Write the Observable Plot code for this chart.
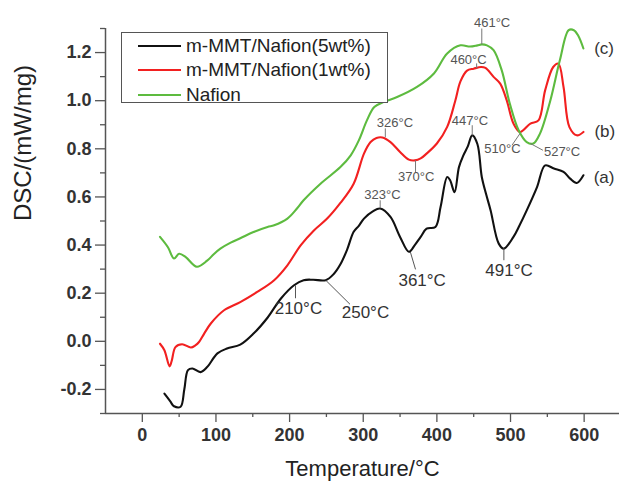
<!DOCTYPE html>
<html><head><meta charset="utf-8">
<script src="https://cdn.jsdelivr.net/npm/d3@7"></script>
<script src="https://cdn.jsdelivr.net/npm/@observablehq/plot@0.6"></script>
<style>
body{margin:0;background:#fff;font-family:"Liberation Sans",Arial,sans-serif;}
#wrap{position:relative;width:619px;height:485px;}
#legend{position:absolute;left:121px;top:32px;width:267px;height:71px;border:1.3px solid #555;background:#fff;box-sizing:border-box;}
.row{position:absolute;left:0;height:24px;display:flex;align-items:center;}
.sw{width:43px;height:0;border-top:2px solid;margin-left:16px;margin-right:5px;}
.lab{font-size:19px;color:#222;white-space:nowrap;}
</style></head><body><div id="wrap"></div>
<script>
// Series names and colours
const seriesNames = ["m-MMT/Nafion(5wt%)", "m-MMT/Nafion(1wt%)", "Nafion"];
const seriesColors = ["#111111", "#f22020", "#5dbb3f"];

// (a) m-MMT/Nafion(5wt%)
const tempA = [30, 38, 43, 52, 57, 62, 68, 79, 88, 102, 115, 133, 151, 170, 188, 206, 219, 232, 249, 260, 269, 278, 287, 294, 301, 313, 323, 337, 350, 362, 370, 378, 386, 398, 405, 414, 418, 424, 430, 436, 442, 448, 455, 461, 467, 473, 484, 491, 504, 512, 522, 536, 547, 559, 572, 581, 590, 599];
const dscA  = [-0.217, -0.25, -0.27, -0.272, -0.2, -0.12, -0.113, -0.128, -0.107, -0.05, -0.03, -0.014, 0.032, 0.098, 0.177, 0.233, 0.254, 0.256, 0.254, 0.28, 0.32, 0.38, 0.455, 0.48, 0.51, 0.54, 0.552, 0.517, 0.434, 0.372, 0.40, 0.434, 0.468, 0.475, 0.558, 0.683, 0.669, 0.62, 0.724, 0.773, 0.81, 0.856, 0.82, 0.683, 0.61, 0.544, 0.406, 0.385, 0.434, 0.48, 0.544, 0.641, 0.731, 0.718, 0.704, 0.676, 0.658, 0.69];

// (b) m-MMT/Nafion(1wt%)
const tempB = [24, 30, 37, 40, 45, 54, 66, 72, 77, 84, 93, 111, 133, 156, 179, 197, 215, 233, 251, 269, 287, 301, 310, 318, 326, 337, 350, 362, 370, 378, 386, 400, 414, 425, 432, 441, 450, 460, 466, 477, 486, 495, 504, 513, 527, 538, 547, 558, 565, 572, 580, 590, 599];
const dscB  = [-0.01, -0.037, -0.104, -0.08, -0.024, -0.012, -0.026, -0.017, -0.003, 0.032, 0.074, 0.129, 0.163, 0.205, 0.254, 0.316, 0.399, 0.461, 0.51, 0.575, 0.655, 0.78, 0.828, 0.845, 0.847, 0.828, 0.787, 0.755, 0.752, 0.76, 0.78, 0.822, 0.891, 1.0, 1.08, 1.125, 1.133, 1.14, 1.136, 1.099, 1.071, 1.0, 0.905, 0.87, 0.905, 0.918, 1.043, 1.14, 1.154, 1.057, 0.89, 0.856, 0.87];

// (c) Nafion
const tempC = [24, 35, 43, 50, 59, 74, 88, 97, 106, 120, 133, 151, 170, 179, 197, 210, 219, 242, 269, 283, 294, 305, 315, 328, 346, 373, 396, 414, 432, 445, 455, 461, 468, 477, 488, 499, 511, 522, 531, 540, 554, 567, 579, 586, 592, 599];
const dscC  = [0.434, 0.39, 0.344, 0.364, 0.35, 0.31, 0.335, 0.362, 0.385, 0.41, 0.428, 0.454, 0.475, 0.482, 0.51, 0.552, 0.586, 0.655, 0.724, 0.773, 0.835, 0.918, 0.974, 0.995, 1.015, 1.057, 1.113, 1.196, 1.23, 1.225, 1.23, 1.234, 1.23, 1.21, 1.127, 0.988, 0.877, 0.828, 0.822, 0.863, 1.0, 1.168, 1.293, 1.293, 1.27, 1.217];

// Ticks
const xMajor = [0, 100, 200, 300, 400, 500, 600];
const xMinor = [50, 150, 250, 350, 450, 550, 650];
const yMajor = [-0.2, 0, 0.2, 0.4, 0.6, 0.8, 1.0, 1.2];
const yMinor = [-0.3, -0.1, 0.1, 0.3, 0.5, 0.7, 0.9, 1.1, 1.3];

// Peak annotations (small grey labels): label, text x/y, leader from (x1,y1) to (x2,y2)
const smallLabels = ["461°C", "460°C", "326°C", "370°C", "323°C", "447°C", "510°C", "527°C"];
const smallTX = [475, 443, 343, 372, 326, 445, 489, 570];
const smallTY = [1.322, 1.168, 0.91, 0.682, 0.607, 0.918, 0.798, 0.786];
const smallX1 = [461, 454, 330, 371, 323, 448, 513, 527];
const smallY1 = [1.234, 1.135, 0.848, 0.752, 0.553, 0.856, 0.864, 0.822];
const smallX2 = [461, 454, 330, 371, 323, 448, 502, 544];
const smallY2 = [1.30, 1.155, 0.885, 0.702, 0.586, 0.898, 0.815, 0.794];

// Larger dark labels
const bigLabels = ["361°C", "491°C", "210°C", "250°C"];
const bigTX = [380, 498, 212, 303];
const bigTY = [0.254, 0.295, 0.137, 0.121];
const bigX1 = [364, 491, 208, 249];
const bigY1 = [0.371, 0.387, 0.233, 0.254];
const bigX2 = [371, 491, 208, 282];
const bigY2 = [0.299, 0.337, 0.179, 0.154];

// Curve tags
const tagLabels = ["(a)", "(b)", "(c)"];
const tagX = [627, 628, 627];
const tagY = [0.682, 0.873, 1.218];

const rows = [];
[[tempA, dscA], [tempB, dscB], [tempC, dscC]].forEach(([ts, vs], k) => {
  ts.forEach((t, i) => rows.push({series: seriesNames[k], t, v: vs[i]}));
});
const small = smallLabels.map((label, i) => ({label, tx: smallTX[i], ty: smallTY[i], x1: smallX1[i], y1: smallY1[i], x2: smallX2[i], y2: smallY2[i]}));
const big = bigLabels.map((label, i) => ({label, tx: bigTX[i], ty: bigTY[i], x1: bigX1[i], y1: bigY1[i], x2: bigX2[i], y2: bigY2[i]}));
const tags = tagLabels.map((label, i) => ({label, x: tagX[i], y: tagY[i]}));

const axisStroke = "#555";
const chart = Plot.plot({
  width: 619, height: 485,
  marginLeft: 105, marginRight: 0, marginTop: 28, marginBottom: 72,
  x: {domain: [-50, 648]},
  y: {domain: [-0.3, 1.3]},
  color: {domain: seriesNames, range: seriesColors},
  style: {fontFamily: "Liberation Sans, Arial, sans-serif", background: "white", overflow: "visible"},
  marks: [
    Plot.axisX({ticks: xMajor, tickSize: 9, tickPadding: 6, fontSize: 18, fontWeight: "bold", tickFormat: d => String(d), label: null, stroke: axisStroke, fill: "#333", strokeWidth: 1.3}),
    Plot.axisX({ticks: xMinor, tickSize: 4, tickFormat: () => "", label: null, stroke: axisStroke, strokeWidth: 1.3}),
    Plot.axisY({ticks: yMajor, tickSize: 10, tickPadding: 4, fontSize: 18, fontWeight: "bold", tickFormat: d => d.toFixed(1), label: null, stroke: axisStroke, fill: "#333", strokeWidth: 1.3}),
    Plot.axisY({ticks: yMinor, tickSize: 5, tickFormat: () => "", label: null, stroke: axisStroke, strokeWidth: 1.3}),
    Plot.ruleX([-50], {stroke: axisStroke, strokeWidth: 1.5}),
    Plot.ruleY([-0.3], {stroke: axisStroke, strokeWidth: 1.5}),
    Plot.line(rows, {x: "t", y: "v", stroke: "series", strokeWidth: 2.1, curve: "catmull-rom"}),
    Plot.link(small, {x1: "x1", y1: "y1", x2: "x2", y2: "y2", stroke: "#777", strokeWidth: 1}),
    Plot.link(big, {x1: "x1", y1: "y1", x2: "x2", y2: "y2", stroke: "#555", strokeWidth: 1}),
    Plot.text(small, {x: "tx", y: "ty", text: "label", fontSize: 13, fill: "#555"}),
    Plot.text(big, {x: "tx", y: "ty", text: "label", fontSize: 17, fill: "#333"}),
    Plot.text(tags, {x: "x", y: "y", text: "label", fontSize: 17, fill: "#333"}),
    Plot.text(["DSC/(mW/mg)"], {text: d => d, frameAnchor: "left", dx: -82, rotate: -90, fontSize: 24, fill: "#222"}),
    Plot.text(["Temperature/°C"], {text: d => d, frameAnchor: "bottom", dy: 62, fontSize: 22, fill: "#222"})
  ]
});
const wrap = document.getElementById("wrap");
wrap.appendChild(chart);

// Legend inside the plot area
const legend = document.createElement("div");
legend.id = "legend";
seriesNames.forEach((name, i) => {
  const row = document.createElement("div");
  row.className = "row";
  row.style.top = (0.5 + i * 24.5) + "px";
  const sw = document.createElement("span");
  sw.className = "sw";
  sw.style.borderTopColor = seriesColors[i];
  const lab = document.createElement("span");
  lab.className = "lab";
  lab.textContent = name;
  row.appendChild(sw); row.appendChild(lab);
  legend.appendChild(row);
});
wrap.appendChild(legend);
</script></body></html>
